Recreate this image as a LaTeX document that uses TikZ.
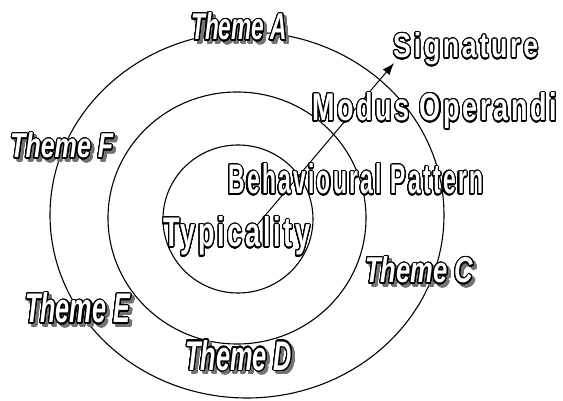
\documentclass[tikz,border=0pt]{standalone}
\usepackage{fontspec}
\usepackage{contour}
\usetikzlibrary{arrows.meta}

% label faces
\newfontfamily\uprfont[LetterSpace=10]{Liberation Sans Bold}
\newfontfamily\itfont{Liberation Sans Bold Italic}

\contourlength{1.1pt}
\contournumber{32}

% white letters with a black outline, squeezed to a given box
\newcommand\outlined[4]{{\color{white}\contour{black}{\resizebox{#1}{#2}{#3#4}}}}
% grey drop shadow of the same letters
\newcommand\shadowed[4]{{\color{black!55}\contour{black!55}{\resizebox{#1}{#2}{#3#4}}}}

\begin{document}
\begin{tikzpicture}[x=1pt,y=-1pt,
  ring/.style={line width=1.1pt},
  lab/.style={inner sep=0pt, anchor=base west},
  pointer/.style={line width=1pt, -{Latex[length=12pt,width=9pt]}}]
\useasboundingbox (0,0) rectangle (563,401);
\fill[white] (0,0) rectangle (563,401);

% the three rings
\draw[ring] (247,215) ellipse [x radius=197pt, y radius=183pt];
\draw[ring] (237,218) ellipse [x radius=129pt, y radius=126pt];
\draw[ring] (238,219) ellipse [x radius=75pt, y radius=74pt];

% arrow from the centre outwards
\coordinate (origin) at (247,237);
\coordinate (tip) at (394,63);
\draw[pointer] (origin) -- (tip);

% themes around the rings (shadow first, then letters)
\node[lab] (shA) at (194,43)  {\shadowed{96pt}{27pt}{\itfont}{Theme A}};
\node[lab] (themeA) at (191,40)  {\outlined{96pt}{27pt}{\itfont}{Theme A}};
\node[lab] (shF) at (13,161)  {\shadowed{103pt}{25pt}{\itfont}{Theme F}};
\node[lab] (themeF) at (10,158)  {\outlined{103pt}{25pt}{\itfont}{Theme F}};
\node[lab] (shE) at (28,326)  {\shadowed{105pt}{30pt}{\itfont}{Theme E}};
\node[lab] (themeE) at (25,323)  {\outlined{105pt}{30pt}{\itfont}{Theme E}};
\node[lab] (shD) at (188,373) {\shadowed{107pt}{30pt}{\itfont}{Theme D}};
\node[lab] (themeD) at (185,370) {\outlined{107pt}{30pt}{\itfont}{Theme D}};
\node[lab] (shC) at (368,286) {\shadowed{108pt}{26pt}{\itfont}{Theme C}};
\node[lab] (themeC) at (365,283) {\outlined{108pt}{26pt}{\itfont}{Theme C}};

% levels along the arrow
\node[lab] (typ) at (163,247) {\outlined{147pt}{30pt}{\uprfont}{Typicality}};
\node[lab] (beh) at (228,194) {\outlined{255pt}{30pt}{\uprfont}{Behavioural Pattern}};
\node[lab] (mod) at (312,121) {\outlined{245pt}{28pt}{\uprfont}{Modus Operandi}};
\node[lab] (sig) at (393,58)  {\outlined{145pt}{25pt}{\uprfont}{Signature}};
\end{tikzpicture}
\end{document}
